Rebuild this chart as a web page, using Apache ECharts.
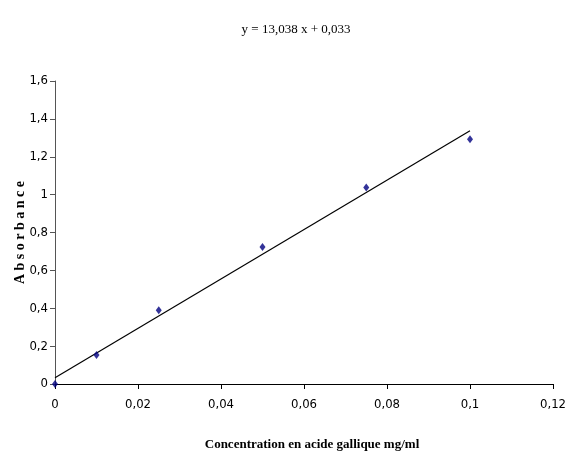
<!DOCTYPE html>
<html>
<head>
<meta charset="utf-8">
<script src="https://cdn.jsdelivr.net/npm/echarts@6/dist/echarts.min.js"></script>
<style>
  html, body { margin: 0; padding: 0; background: #fff; }
  #chart { width: 584px; height: 457px; }
</style>
</head>
<body>
<div id="chart"></div>
<script>
// concentrations (mg/ml) and absorbances
var concentration = [0, 0.01, 0.025, 0.05, 0.075, 0.1];
var absorbance = [0, 0.153, 0.389, 0.724, 1.037, 1.292];
// linear trend line ends (y = 13,038 x + 0,033)
var trendX = [0, 0.1];
var trendY = [0.033, 1.337];
var equation = 'y = 13,038 x + 0,033';

function pairs(xs, ys) {
  var out = [];
  for (var i = 0; i < xs.length; i++) out.push([xs[i], ys[i]]);
  return out;
}
// virgule décimale
function fmt(v) {
  return String(parseFloat(v.toFixed(4))).replace('.', ',');
}

var narrow = "'Liberation Sans Narrow', 'DejaVu Sans Condensed', 'Arial Narrow', 'Liberation Sans', sans-serif";
var serif = "'Liberation Serif', 'Times New Roman', serif";

var myChart = echarts.init(document.getElementById('chart'), null, { renderer: 'canvas' });
var option = {
  animation: false,
  title: {
    text: equation,
    left: 291,
    top: 18,
    textAlign: 'center',
    textStyle: { fontFamily: serif, fontSize: 13, fontWeight: 'normal', color: '#000' }
  },
  grid: { left: 55, right: 31, top: 81, bottom: 73, containLabel: false, outerBoundsMode: 'none' },
  xAxis: {
    type: 'value',
    min: 0,
    max: 0.12,
    interval: 0.02,
    name: 'Concentration en acide gallique mg/ml',
    nameLocation: 'middle',
    nameGap: 54,
    nameMoveOverlap: false,
    nameTextStyle: { fontFamily: serif, fontSize: 13, fontWeight: 'bold', color: '#000', padding: [0, 0, 0, 16] },
    axisLine: { lineStyle: { color: '#000', width: 1 } },
    axisTick: { length: 5, lineStyle: { color: '#000' } },
    axisLabel: { formatter: fmt, fontFamily: narrow, fontSize: 13, color: '#000', margin: 14 },
    splitLine: { show: false }
  },
  yAxis: {
    type: 'value',
    min: 0,
    max: 1.6,
    interval: 0.2,
    name: 'A b s o r b a n c e',
    nameLocation: 'middle',
    nameGap: 28,
    nameMoveOverlap: false,
    nameTextStyle: { fontFamily: serif, fontSize: 14, fontWeight: 'bold', color: '#000' },
    axisLine: { show: true, lineStyle: { color: '#555', width: 1 } },
    axisTick: { show: true, length: 5, lineStyle: { color: '#555' } },
    axisLabel: { formatter: fmt, fontFamily: narrow, fontSize: 13, color: '#000', margin: 7 },
    splitLine: { show: false }
  },
  series: [
    {
      name: 'trend',
      type: 'line',
      data: pairs(trendX, trendY),
      symbol: 'none',
      lineStyle: { color: '#000', width: 1.2 },
      z: 2
    },
    {
      name: 'absorbance',
      type: 'scatter',
      data: pairs(concentration, absorbance),
      symbol: 'diamond',
      symbolSize: [6, 8],
      itemStyle: { color: '#000080' },
      z: 3
    }
  ]
};
myChart.setOption(option);
</script>
</body>
</html>
